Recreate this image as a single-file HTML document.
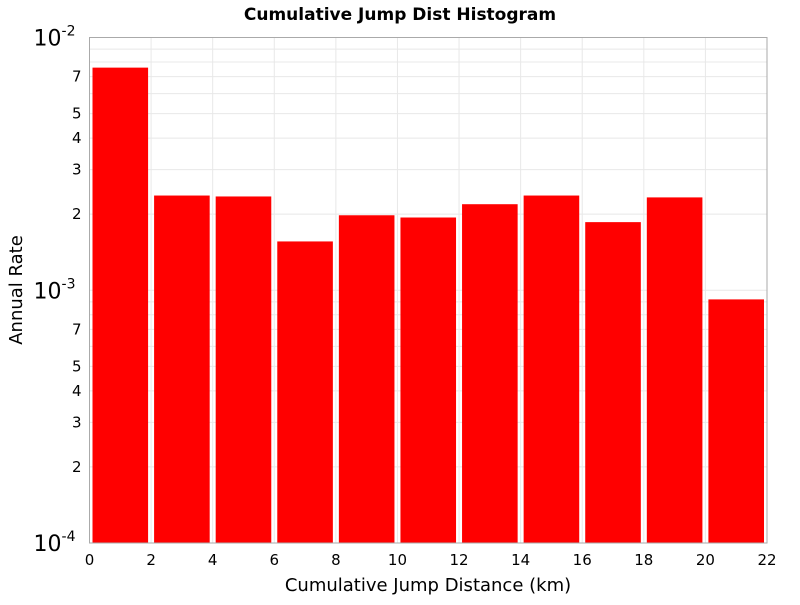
<!DOCTYPE html>
<html><head><meta charset="utf-8"><style>
body{margin:0;background:#fff;font-family:"Liberation Sans","DejaVu Sans",sans-serif}
</style></head><body>
<svg id="chart" width="800" height="600" xmlns="http://www.w3.org/2000/svg" font-family="DejaVu Sans, Liberation Sans, sans-serif">
<text x="400" y="20" text-anchor="middle" font-size="17" font-weight="bold">Cumulative Jump Dist Histogram</text>
<text x="428" y="591" text-anchor="middle" font-size="18">Cumulative Jump Distance (km)</text>
<text transform="translate(22,290) rotate(-90)" text-anchor="middle" font-size="18">Annual Rate</text>
<g id="grid"></g><g id="bars"></g><g id="axes"></g>
</svg>
<script>
const binStarts=[0,2,4,6,8,10,12,14,16,18,20];
const rates=[7.6e-3,2.37e-3,2.35e-3,1.56e-3,1.98e-3,1.94e-3,2.19e-3,2.37e-3,1.86e-3,2.33e-3,9.2e-4];
const xTicks=[0,2,4,6,8,10,12,14,16,18,20,22];
const L=89.5,R=767,T=37.5,B=543,xMin=0,xMax=22,yMinExp=-4,yMaxExp=-2;
const binW=2;
const xs=v=>L+(v-xMin)/(xMax-xMin)*(R-L);
const ys=v=>B-(Math.log10(v)-yMinExp)/(yMaxExp-yMinExp)*(B-T);
const NS="http://www.w3.org/2000/svg";
function mk(p,tag,at){const e=document.createElementNS(NS,tag);for(const k in at)e.setAttribute(k,at[k]);p.appendChild(e);return e;}
const grid=document.getElementById('grid'),bars=document.getElementById('bars'),axes=document.getElementById('axes');
xTicks.forEach(t=>{
 const l=mk(grid,'line',{x1:xs(t),x2:xs(t),y1:T,y2:B,stroke:'#e8e8e8','stroke-width':1});
 
 
 const tx=mk(axes,'text',{x:xs(t),y:B+22,'text-anchor':'middle','font-size':15});
 tx.textContent=t;
 
 
});
for(let e=yMinExp;e<yMaxExp;e++){for(let m=1;m<10;m++){const v=m*Math.pow(10,e);
 const l=mk(grid,'line',{x1:L,x2:R,y1:ys(v),y2:ys(v),stroke:'#e8e8e8','stroke-width':1});
 
 
 if([2,3,4,5,7].includes(m)){const tx=mk(axes,'text',{x:L-8,y:ys(v)+5,'text-anchor':'end','font-size':15});
  tx.textContent=m;
  
  }
}}
for(let e=yMinExp;e<=yMaxExp;e++){
 const tx=mk(axes,'text',{x:L-14,y:ys(Math.pow(10,e))+8,'text-anchor':'end','font-size':22});
 tx.textContent='10';
 const s=mk(tx,'tspan',{dy:-10,'font-size':14});s.textContent=e;
 
 
}
binStarts.forEach((b,i)=>{
 const x0=xs(b)+3,x1=xs(b+binW)-3,y=ys(rates[i]);
 const r=mk(bars,'rect',{x:x0,y:y,width:x1-x0,height:B-y,fill:'#ff0000'});
 
 
});
const f=mk(axes,'rect',{x:L,y:T,width:R-L,height:B-T,fill:'none',stroke:'#aaa','stroke-width':1});


</script>
</body></html>
